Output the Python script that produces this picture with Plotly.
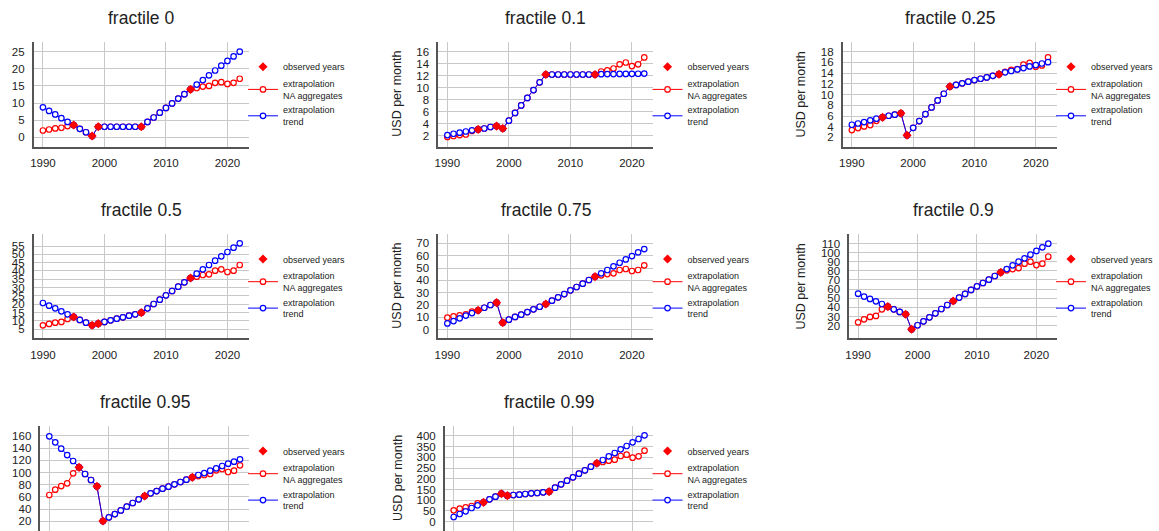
import plotly.graph_objects as go

# ---------------------------------------------------------------- data
years = list(range(1990, 2023))
observed_years = [1995, 1998, 1999, 2006, 2014]

fractiles = ["0", "0.1", "0.25", "0.5", "0.75", "0.9", "0.95", "0.99"]

# "extrapolation trend" series, 1990-2022 (USD per month)
trend_f0 = [8.75, 7.7, 6.7, 5.6, 4.5, 3.6, 2.5, 1.5, 0.4, 3.1,
            3.1, 3.1, 3.1, 3.1, 3.1, 3.1, 3.1, 4.5, 5.8, 7.2,
            8.6, 9.9, 11.3, 12.6, 14.0, 15.4, 16.7, 18.1, 19.5, 20.9,
            22.3, 23.6, 25.0]
trend_f01 = [2.1, 2.33, 2.5, 2.7, 2.9, 3.05, 3.2, 3.45, 3.6, 3.2,
             4.5, 5.8, 7.05, 8.3, 9.6, 10.9, 12.2, 12.2, 12.2, 12.2,
             12.2, 12.2, 12.2, 12.2, 12.2, 12.25, 12.27, 12.28, 12.3, 12.3,
             12.32, 12.33, 12.35]
trend_f025 = [4.37, 4.6, 4.87, 5.2, 5.5, 5.75, 6.05, 6.25, 6.5, 2.4,
              3.8, 5.05, 6.35, 7.6, 8.9, 10.15, 11.5, 11.8, 12.1, 12.4,
              12.7, 12.95, 13.2, 13.5, 13.8, 14.15, 14.4, 14.7, 14.95, 15.25,
              15.5, 15.8, 16.05]
trend_f05 = [20.8, 19.2, 17.6, 15.8, 14.0, 12.4, 10.6, 9.0, 7.4, 8.4,
             9.4, 10.4, 11.4, 12.2, 13.2, 14.0, 15.0, 17.6, 20.2, 22.8,
             25.4, 28.0, 30.6, 33.2, 35.8, 38.4, 41.0, 43.6, 46.2, 48.8,
             51.4, 54.0, 56.6]
trend_f075 = [5.1, 7.0, 9.2, 11.4, 13.5, 15.7, 17.8, 20.0, 21.9, 5.7,
              8.1, 10.3, 12.2, 14.3, 16.5, 18.6, 20.8, 23.5, 26.2, 28.9,
              31.9, 34.6, 37.3, 40.3, 43.0, 45.7, 48.4, 51.4, 54.3, 57.0,
              59.7, 62.7, 65.4]
trend_f09 = [55.0, 51.8, 49.2, 46.6, 43.7, 40.8, 37.9, 35.0, 32.4, 16.0,
             20.4, 24.7, 29.1, 33.5, 38.2, 42.6, 47.0, 50.7, 54.7, 59.1,
             63.1, 66.7, 70.4, 74.4, 78.4, 82.0, 86.1, 90.1, 93.7, 97.7,
             101.8, 105.8, 109.8]
trend_f095 = [159.3, 149.5, 139.1, 128.7, 118.9, 108.5, 97.6, 87.8, 77.4, 20.5,
              26.6, 32.0, 38.0, 44.0, 50.1, 56.1, 61.5, 65.9, 69.7, 73.6,
              76.8, 80.7, 84.5, 88.3, 92.1, 96.0, 99.2, 103.1, 106.9, 110.7,
              114.5, 117.8, 121.6]
trend_f099 = [21.8, 35.8, 48.2, 63.8, 76.2, 90.2, 104.2, 116.6, 130.6, 121.3,
              124.4, 126.0, 129.1, 132.2, 133.7, 136.9, 140.0, 158.6, 174.2, 191.3,
              206.8, 224.0, 239.5, 256.6, 272.2, 287.7, 304.8, 320.4, 337.5, 353.0,
              370.1, 385.7, 402.8]

# "extrapolation NA aggregates": 1990-1994 and 2015-2022
# (1995-2014 is shared with the trend series)
na_head_f0 = [2.0, 2.3, 2.6, 2.8, 3.3]
na_tail_f0 = [14.4, 14.8, 15.0, 15.9, 16.1, 15.6, 15.9, 17.1]
na_head_f01 = [1.8, 1.95, 2.1, 2.2, 2.8]
na_tail_f01 = [12.7, 12.9, 13.2, 13.9, 14.2, 13.6, 13.9, 15.05]
na_head_f025 = [3.38, 3.75, 4.05, 4.3, 5.1]
na_tail_f025 = [14.25, 14.6, 14.75, 15.6, 15.9, 15.2, 15.45, 16.95]
na_head_f05 = [7.4, 8.2, 9.0, 9.4, 11.2]
na_tail_f05 = [36.6, 37.6, 38.0, 40.2, 41.0, 39.4, 40.2, 43.6]
na_head_f075 = [9.7, 10.8, 11.6, 12.4, 14.6]
na_tail_f075 = [44.1, 45.1, 45.7, 48.4, 49.2, 47.6, 48.4, 52.2]
na_head_f09 = [23.6, 26.9, 29.5, 30.6, 37.9]
na_tail_f09 = [80.6, 82.0, 83.1, 87.9, 90.1, 86.4, 87.9, 95.5]
na_head_f095 = [63.2, 71.9, 77.9, 82.3, 98.7]
na_tail_f095 = [94.3, 96.0, 97.6, 103.6, 105.8, 100.9, 103.1, 111.8]
na_head_f099 = [52.9, 60.7, 66.9, 73.1, 85.5]
na_tail_f099 = [278.4, 284.6, 289.3, 306.4, 312.6, 298.6, 304.8, 331.3]

# y tick labels per panel
yticks_f0 = [0, 5, 10, 15, 20, 25]
yticks_f01 = [2, 4, 6, 8, 10, 12, 14, 16]
yticks_f025 = [2, 4, 6, 8, 10, 12, 14, 16, 18]
yticks_f05 = [5, 10, 15, 20, 25, 30, 35, 40, 45, 50, 55]
yticks_f075 = [0, 10, 20, 30, 40, 50, 60, 70]
yticks_f09 = [20, 30, 40, 50, 60, 70, 80, 90, 100, 110]
yticks_f095 = [20, 40, 60, 80, 100, 120, 140, 160]
yticks_f099 = [0, 50, 100, 150, 200, 250, 300, 350, 400]
xticks = [1990, 2000, 2010, 2020]

trends = [trend_f0, trend_f01, trend_f025, trend_f05,
          trend_f075, trend_f09, trend_f095, trend_f099]
na_heads = [na_head_f0, na_head_f01, na_head_f025, na_head_f05,
            na_head_f075, na_head_f09, na_head_f095, na_head_f099]
na_tails = [na_tail_f0, na_tail_f01, na_tail_f025, na_tail_f05,
            na_tail_f075, na_tail_f09, na_tail_f095, na_tail_f099]
yticks = [yticks_f0, yticks_f01, yticks_f025, yticks_f05,
          yticks_f075, yticks_f09, yticks_f095, yticks_f099]

# ---------------------------------------------------------------- layout
W, H = 1159, 531
FONT = "Arial, Liberation Sans, sans-serif"
RED = "#ff0000"
BLUE = "#0000ff"
GRID = "#c8c8c8"
AXIS = "#555555"
TXT = "#222222"

# panel geometry in pixels: left, right, top, bottom, y range, y title x
panels = [
    (30.0, 247.3, 41.7, 146.7, [-2.72, 27.9], None),
    (438.3, 655.7, 41.7, 146.7, [0.17, 17.67], 397.3),
    (846.7, 1063.3, 41.7, 146.7, [0.27, 19.87], 805.0),
    (30.0, 247.3, 234.0, 338.3, [-0.4, 62.2], None),
    (438.3, 655.7, 234.0, 338.3, [-7.0, 77.6], 397.3),
    (853.3, 1063.3, 234.0, 338.3, [6.1, 120.4], 805.0),
    (36.7, 247.3, 426.0, 531.0, [4.2, 176.3], None),
    (445.0, 655.7, 426.0, 531.0, [-43.5, 446.3], 397.3),
]


def fx(px):
    return px / W


def fy(px):
    return 1 - px / H


fig = go.Figure()
layout = dict(
    width=W, height=H,
    margin=dict(l=0, r=0, t=0, b=0),
    paper_bgcolor="white", plot_bgcolor="white",
    font=dict(family=FONT, color=TXT),
    annotations=[],
)

obs_idx = [years.index(y) for y in observed_years]

for k, (frac, trend, head, tail, ytk, geo) in enumerate(
        zip(fractiles, trends, na_heads, na_tails, yticks, panels)):
    n = k + 1
    sfx = "" if n == 1 else str(n)
    left, right, top, bottom, yrange, ytitle_x = geo
    bottom_row = bottom >= H - 1
    legend_id = "legend" + sfx

    na = head + trend[5:25] + tail
    observed = [trend[i] for i in obs_idx]

    common = dict(xaxis="x" + sfx, yaxis="y" + sfx, legend=legend_id)
    fig.add_trace(go.Scatter(
        x=years, y=na, mode="lines+markers", name="extrapolation<br>NA aggregates",
        line=dict(color=RED, width=1),
        marker=dict(symbol="circle", size=5.5, color="white",
                    line=dict(color=RED, width=1.2)),
        legendrank=2, **common))
    fig.add_trace(go.Scatter(
        x=years, y=trend, mode="lines+markers", name="extrapolation<br>trend",
        line=dict(color=BLUE, width=1),
        marker=dict(symbol="circle", size=5.5, color="white",
                    line=dict(color=BLUE, width=1.2)),
        legendrank=3, **common))
    fig.add_trace(go.Scatter(
        x=observed_years, y=observed, mode="markers", name="observed years",
        marker=dict(symbol="diamond", size=7, color=RED),
        legendrank=1, **common))

    layout["xaxis" + sfx] = dict(
        domain=[fx(left), fx(right)], anchor="y" + sfx,
        range=[1988.5, 2023.5], tickmode="array", tickvals=xticks,
        showgrid=True, gridcolor=GRID, gridwidth=1.2, zeroline=False,
        showline=not bottom_row, linecolor=AXIS, linewidth=1.5,
        ticks="", showticklabels=not bottom_row, ticklabelstandoff=5,
        tickfont=dict(size=11.5, color=TXT, family=FONT),
    )
    layout["yaxis" + sfx] = dict(
        domain=[max(0.0, fy(bottom)), fy(top)], anchor="x" + sfx,
        range=yrange, tickmode="array", tickvals=ytk,
        showgrid=True, gridcolor=GRID, gridwidth=1.2, zeroline=False,
        showline=True, linecolor=AXIS, linewidth=1.5,
        ticks="", ticklabelstandoff=5,
        tickfont=dict(size=11.5, color=TXT, family=FONT),
    )
    layout[legend_id] = dict(
        x=fx(right - 6), y=fy(top + 10.5), xanchor="left", yanchor="top",
        bgcolor="rgba(0,0,0,0)", borderwidth=0, tracegroupgap=0,
        font=dict(size=9, color=TXT, family=FONT),
    )
    layout["annotations"].append(dict(
        text="fractile " + frac, xref="paper", yref="paper",
        x=fx((left + right) / 2), y=fy(top - 24), xanchor="center", yanchor="middle",
        showarrow=False, font=dict(size=17.5, color=TXT, family=FONT),
    ))
    if ytitle_x is not None:
        layout["annotations"].append(dict(
            text="USD per month", xref="paper", yref="paper", textangle=-90,
            x=fx(ytitle_x), y=fy((top + bottom) / 2), xanchor="center", yanchor="middle",
            showarrow=False, font=dict(size=12.5, color=TXT, family=FONT),
        ))

fig.update_layout(**layout)
fig.write_html("out.html")
